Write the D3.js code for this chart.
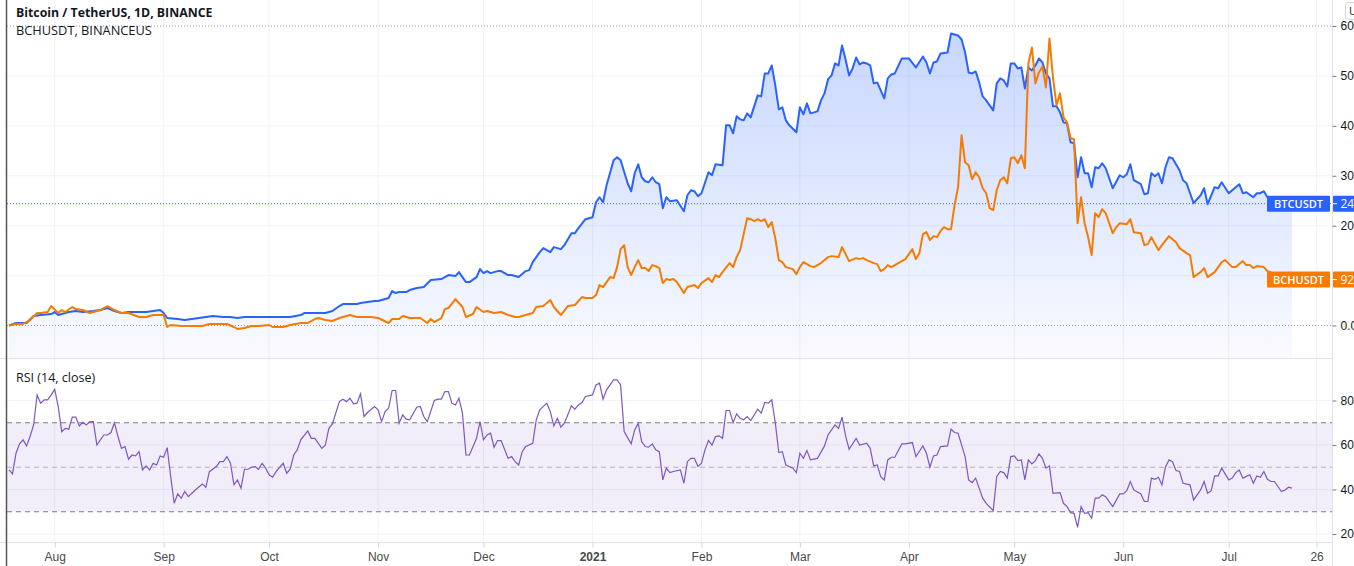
<!DOCTYPE html>
<html>
<head>
<meta charset="utf-8">
<script src="https://cdn.jsdelivr.net/npm/d3@7"></script>
<style>
  body { margin: 0; overflow: hidden; background: #fff; }
  svg { display: block; font-family: "Open Sans", sans-serif; }
</style>
</head>
<body>
<svg width="1354" height="566"></svg>
<script>
// Data: day offsets from the first bar and % change vs that bar

var startDate = new Date(2020, 6, 19);   // first daily bar (Jul 19 2020)
var lastDay = 365;                       // last daily bar (Jul 19 2021)

var btcDays = [0,2,5,7,9,12,13,14,15,17,19,21,24,26,28,30,32,34,37,39,41,43,44,45,48,50,52,54,56,58,61,63,65,67,69,71,74,76,78,80,83,84,88,90,92,94,95,99,100,102,104,105,107,108,109,110,111,113,114,116,118,120,123,124,125,127,128,129,130,131,133,134,135,136,137,139,140,142,143,145,147,148,149,151,152,154,155,157,158,160,161,162,164,166,167,168,169,170,172,173,174,176,177,178,179,180,181,182,183,184,185,186,187,188,190,192,193,194,195,196,197,199,200,201,203,204,205,206,207,208,209,210,211,213,214,215,216,217,218,219,220,221,222,224,225,226,227,228,230,231,232,233,234,235,236,237,238,239,240,241,242,243,244,245,246,247,249,250,251,252,254,256,258,260,261,262,263,264,265,267,268,270,271,272,273,274,275,276,277,278,280,281,282,283,284,285,286,287,288,289,290,291,292,293,294,295,296,297,298,299,300,301,302,303,304,305,306,307,308,309,310,311,312,314,316,317,318,319,320,322,323,324,325,326,327,328,329,330,331,333,334,335,337,339,340,341,343,344,345,347,349,350,351,352,354,355,356,357,358,360,362,365];
var btcPct  = [0,5,5,19,21,23,27,21,23,27,29,27,29,31,35,29,25,27,27,27,29,31,25,15,13,11,13,15,17,19,17,17,15,17,17,17,17,17,17,17,21,25,25,25,29,39,43,43,45,47,49,49,53,55,69,65,67,67,71,75,77,91,93,97,101,99,107,97,87,87,97,113,105,109,105,109,109,101,101,97,109,111,127,147,155,147,157,153,161,185,185,195,213,217,247,257,247,281,331,337,331,285,269,305,323,297,289,287,297,287,283,235,257,249,251,229,261,271,269,259,265,307,301,323,321,401,401,385,419,413,411,425,417,461,459,505,505,521,481,433,437,411,401,387,437,423,445,425,429,451,465,493,501,525,521,561,533,501,515,537,523,527,525,521,485,487,455,495,503,505,535,535,517,539,527,505,527,529,545,547,585,581,573,547,507,505,509,487,459,451,431,485,495,491,479,525,525,515,517,475,517,511,521,535,527,505,495,439,439,427,407,405,367,365,297,337,305,305,277,317,315,325,315,275,301,297,303,323,291,283,263,265,305,299,305,285,317,337,335,311,291,285,245,261,275,243,277,275,287,265,277,283,265,267,257,265,265,269,257,253,246,244];

var bchDays = [0,2,4,6,8,9,11,12,14,15,16,18,19,21,23,26,28,30,32,34,37,39,41,43,44,45,46,49,51,53,55,57,59,62,64,65,67,69,71,74,75,78,80,83,85,87,88,90,92,94,95,97,99,101,103,105,108,109,111,112,114,115,117,119,120,121,123,124,125,127,129,130,132,133,135,136,138,140,142,144,145,147,149,150,152,154,155,157,159,161,163,164,166,167,168,169,170,171,172,173,174,175,176,177,178,179,180,181,182,183,184,185,186,187,188,189,190,192,193,194,195,196,197,199,200,201,202,203,205,206,207,208,210,211,212,213,214,215,216,217,218,219,220,221,223,224,225,226,228,229,231,233,234,236,237,239,241,242,243,244,246,247,248,249,250,251,253,255,257,258,259,260,261,262,263,264,265,266,267,268,269,270,271,272,273,274,275,276,277,278,279,280,281,282,283,284,285,286,287,288,289,290,291,292,293,294,295,296,297,298,299,300,301,302,303,304,305,306,307,308,309,310,311,312,314,315,316,318,319,320,322,323,324,325,327,328,330,332,333,335,336,337,339,340,341,343,345,346,348,349,351,352,353,354,355,357,358,361,363,365];
var bchPct  = [0,3,3,11,25,25,27,39,25,31,27,37,33,31,25,31,39,31,25,25,17,17,21,21,21,-3,1,-1,-1,-1,-1,3,3,3,-3,-7,-5,-1,-1,1,-3,-3,1,5,5,13,15,11,9,15,17,21,17,17,17,15,5,13,13,19,15,15,15,5,13,7,15,33,35,53,37,17,23,37,27,29,25,27,21,17,17,21,25,37,39,51,37,21,39,41,57,55,55,61,81,77,87,97,95,117,153,161,117,101,117,131,115,115,109,121,119,115,85,93,91,93,87,65,77,79,81,75,85,95,87,101,97,107,125,117,137,151,215,213,209,213,209,213,197,207,175,131,127,117,113,103,117,127,119,117,125,137,139,137,157,129,135,133,135,131,125,123,109,113,121,117,125,133,153,133,145,183,187,171,179,177,189,197,193,193,241,277,381,327,321,293,307,297,275,265,235,231,271,291,297,285,335,337,325,341,315,525,557,485,507,519,477,575,497,441,465,417,407,375,373,205,257,205,177,141,225,217,233,225,185,197,205,203,213,187,185,161,163,177,151,161,179,167,155,145,141,97,107,115,97,107,127,131,117,117,129,121,121,115,119,117,109,101,95,92];

var rsiDays = [0,1,2,3,4,5,6,7,8,9,10,11,12,13,14,15,16,17,18,19,20,21,22,23,24,25,26,27,28,29,30,31,32,33,34,35,36,37,38,39,40,41,42,43,44,45,46,47,48,49,50,51,53,55,56,57,59,60,61,62,63,64,65,66,67,68,69,70,71,72,73,74,75,76,78,79,80,81,82,83,85,86,87,89,90,91,92,94,95,96,97,98,99,100,101,102,104,105,106,107,108,109,110,111,112,113,114,116,117,118,119,121,122,123,124,125,126,127,128,129,130,131,133,134,135,136,137,138,139,140,142,143,144,145,146,147,149,150,151,153,154,155,156,157,158,160,161,162,163,164,166,167,168,169,170,172,173,174,175,177,178,179,180,181,182,183,184,185,186,187,188,189,191,192,193,194,195,196,197,198,199,200,201,202,203,204,205,206,207,208,209,210,211,212,213,214,215,216,217,218,219,220,221,223,224,225,226,227,228,230,232,233,234,235,236,237,238,239,241,242,244,245,246,247,248,249,250,251,252,254,255,257,258,260,261,262,263,264,265,267,268,269,270,272,273,274,275,277,278,280,281,282,283,284,285,286,287,288,289,290,291,292,293,294,295,296,297,299,300,301,302,303,304,305,306,307,308,309,310,311,312,314,316,317,318,319,320,322,323,324,325,326,327,328,329,330,331,332,333,334,336,337,339,340,341,342,343,344,345,347,348,349,350,351,353,354,355,356,357,358,359,360,362,363,364,365];
var rsiValues = [48.8,47,56.3,60.5,62.3,59.6,63.8,69,82.5,78.8,80.3,80.3,82.5,85,77.3,66,67.5,67.1,72.5,72.5,68.6,70.2,69,70.5,70.5,60,62.3,64.5,64.5,65.6,70,63.8,58.5,59.3,53.6,55.5,55.1,57,48.8,50.6,48.8,51.8,51,55.1,54.5,58.8,45.8,33.8,38,36.1,39.1,36.8,39.8,42.5,41,48,50.3,52.5,52.5,54.8,51.8,42.1,44.3,40.6,49.1,49.1,50,50.3,49.1,51.8,49.6,46.6,45.5,48.1,51.8,47.3,49.1,55.5,57.8,62.3,66.3,63,63,58.5,60,67.5,69.5,79.5,80.6,79.5,81,78.5,78.8,83,72.8,74.6,77.3,75.8,70.5,75,76.5,84.5,84.5,69.8,73.5,71.6,71.3,77,77.3,72.8,70.5,80,80.6,80.6,84,84,78.8,78,81,74.3,55.5,55.5,63,70.5,62.3,64.5,65.3,59,62,62,54,54.8,52.5,51,57,59.3,60.8,71.3,75.8,78.8,75,68.6,72,68,69.8,77.6,76.1,78,79.1,81.8,82.5,87,87.8,80.6,84.8,89.3,89.3,87,66,60.5,66.8,69.8,61.5,59.3,59,60.5,57.8,57,44.3,49.6,47.6,48.1,48.8,42.8,52.5,54,54,50.3,51.8,57.8,62,60,63.8,64.1,63,75.5,75.5,70,74,72,71.3,72.8,71,73.5,76.1,74.3,79.1,78.8,80.3,70,56.6,57,51,49.6,47.6,56.3,54,57.5,53.3,54,59.6,64.5,66.8,69,67.5,72.5,64.1,58.1,63,60,60.8,58.5,50.6,51,45.8,44.3,53.3,54.5,54.5,60.5,60.5,61.1,54.8,59.6,56.3,50,55.1,55.5,59.3,59.6,67.1,65.6,65.3,54.8,44.3,43.1,45.1,36.1,33.8,30.5,45.8,48.1,47.6,45.1,54.8,55.1,53,53.3,44.3,53.3,51.5,53,56,54,49.6,50.6,38.3,38.6,33.8,32.3,29.6,29.3,23,32.3,29.3,29.6,27.1,36.1,36.1,37.6,36.8,32.3,38,38,39.5,43.6,39.8,38,34.6,34.6,45.1,44.6,45.5,42.1,50,53.3,52.5,48.5,48.1,42.8,42.1,35.3,39.8,43.6,38.3,39.5,46.1,46.1,49.6,44.3,45.1,47.6,48.8,45.1,46.6,42.8,46.1,45.5,48.1,44.6,43.6,43.6,39.1,39.8,41,40.6];

var priceTicks = [0, 100, 200, 300, 400, 500, 600];     // % grid on the right scale
var priceLabels = [0, 200, 300, 400, 500, 600];          // 100% label sits under the BCHUSDT box
var rsiTicks = [20, 40, 60, 80];
var rsiLevels = [70, 50, 30];                            // dashed RSI bands
var dateTicks = ['2020-08-01','2020-09-01','2020-10-01','2020-11-01','2020-12-01','2021-01-01',
                 '2021-02-01','2021-03-01','2021-04-01','2021-05-01','2021-06-01','2021-07-01','2021-07-26'];
var btcLast = '244.27%', bchLast = '92.31%';

// Layout

var svg = d3.select('svg');
var left = 7, right = 1332;          // plot area edges
var priceTop = 0, priceBottom = 358; // price pane
var rsiTop = 358, rsiBottom = 542;   // RSI pane
var blue = '#2962ff', orange = '#f57c00', purple = '#7e57c2';
var gridColor = '#f0f3fa', textColor = '#131722';

function dayDate(n) { return d3.timeDay.offset(startDate, n); }

var x = d3.scaleTime().domain([startDate, dayDate(lastDay)]).range([9, 1292]);
var yPrice = d3.scaleLinear().domain([0, 600]).range([325.5, 26]);
var yRsi = d3.scaleLinear().domain([20, 80]).range([534, 400.5]);

var btc = btcDays.map(function (d, i) { return { date: dayDate(d), v: btcPct[i] }; });
var bch = bchDays.map(function (d, i) { return { date: dayDate(d), v: bchPct[i] }; });
var rsi = rsiDays.map(function (d, i) { return { date: dayDate(d), v: rsiValues[i] }; });
var ticks = dateTicks.map(function (s) { return d3.timeParse('%Y-%m-%d')(s); });

// clip paths for panes
var defs = svg.append('defs');
defs.append('clipPath').attr('id', 'clipPrice').append('rect')
  .attr('x', left).attr('y', priceTop).attr('width', right - left).attr('height', priceBottom - priceTop);
defs.append('clipPath').attr('id', 'clipRsi').append('rect')
  .attr('x', left).attr('y', rsiTop).attr('width', right - left).attr('height', rsiBottom - rsiTop);

var grad = defs.append('linearGradient').attr('id', 'areaFill')
  .attr('gradientUnits', 'userSpaceOnUse').attr('x1', 0).attr('x2', 0)
  .attr('y1', yPrice(600)).attr('y2', priceBottom);
grad.append('stop').attr('offset', 0).attr('stop-color', blue).attr('stop-opacity', 0.26);
grad.append('stop').attr('offset', 1).attr('stop-color', blue).attr('stop-opacity', 0.03);

// Grid

svg.append('g').selectAll('line').data(ticks).join('line')
  .attr('x1', function (d) { return x(d); }).attr('x2', function (d) { return x(d); })
  .attr('y1', 0).attr('y2', rsiBottom)
  .attr('stroke', gridColor).attr('stroke-width', 1);

svg.append('g').selectAll('line').data(priceTicks.slice(1, -1)).join('line')
  .attr('x1', left).attr('x2', right)
  .attr('y1', function (d) { return yPrice(d); }).attr('y2', function (d) { return yPrice(d); })
  .attr('stroke', gridColor);

svg.append('g').selectAll('line').data(rsiTicks).join('line')
  .attr('x1', left).attr('x2', right)
  .attr('y1', function (d) { return yRsi(d); }).attr('y2', function (d) { return yRsi(d); })
  .attr('stroke', gridColor);

// Price pane

var area = d3.area()
  .x(function (d) { return x(d.date); })
  .y0(priceBottom)
  .y1(function (d) { return yPrice(d.v); });

var priceLine = d3.line()
  .x(function (d) { return x(d.date); })
  .y(function (d) { return yPrice(d.v); });

var pricePane = svg.append('g').attr('clip-path', 'url(#clipPrice)');

pricePane.append('path').datum(btc).attr('d', area).attr('fill', 'url(#areaFill)');

// dotted reference lines: top, zero and last BTC value
[600, 0].forEach(function (v) {
  pricePane.append('line')
    .attr('x1', left).attr('x2', right).attr('y1', yPrice(v)).attr('y2', yPrice(v))
    .attr('stroke', '#9598a1').attr('stroke-width', 1).attr('stroke-dasharray', '1,2');
});
pricePane.append('line')
  .attr('x1', left).attr('x2', right)
  .attr('y1', yPrice(btcPct[btcPct.length - 1])).attr('y2', yPrice(btcPct[btcPct.length - 1]))
  .attr('stroke', blue).attr('stroke-width', 1).attr('stroke-dasharray', '1,2');

pricePane.append('path').datum(btc).attr('d', priceLine)
  .attr('fill', 'none').attr('stroke', blue).attr('stroke-width', 2).attr('stroke-linejoin', 'round');
pricePane.append('path').datum(bch).attr('d', priceLine)
  .attr('fill', 'none').attr('stroke', orange).attr('stroke-width', 2).attr('stroke-linejoin', 'round');

// RSI pane

svg.append('rect')
  .attr('x', left).attr('width', right - left)
  .attr('y', yRsi(70)).attr('height', yRsi(30) - yRsi(70))
  .attr('fill', purple).attr('fill-opacity', 0.1);

svg.append('g').selectAll('line').data(rsiLevels).join('line')
  .attr('x1', left).attr('x2', right)
  .attr('y1', function (d) { return yRsi(d); }).attr('y2', function (d) { return yRsi(d); })
  .attr('stroke', '#787b86')
  .attr('stroke-opacity', function (d) { return d === 50 ? 0.5 : 1; })
  .attr('stroke-dasharray', '5,4');

var rsiLine = d3.line()
  .x(function (d) { return x(d.date); })
  .y(function (d) { return yRsi(d.v); });

svg.append('g').attr('clip-path', 'url(#clipRsi)')
  .append('path').datum(rsi).attr('d', rsiLine)
  .attr('fill', 'none').attr('stroke', purple).attr('stroke-width', 1.2);

// Pane borders

svg.append('line').attr('x1', 0).attr('x2', right).attr('y1', priceBottom + 0.5).attr('y2', priceBottom + 0.5)
  .attr('stroke', '#e0e3eb');
svg.append('line').attr('x1', 0).attr('x2', right).attr('y1', rsiBottom + 0.5).attr('y2', rsiBottom + 0.5)
  .attr('stroke', '#e0e3eb');
svg.append('line').attr('x1', right + 0.5).attr('x2', right + 0.5).attr('y1', 0).attr('y2', 566)
  .attr('stroke', '#e0e3eb');
svg.append('line').attr('x1', 6.5).attr('x2', 6.5).attr('y1', 0).attr('y2', 566)
  .attr('stroke', '#555').attr('stroke-width', 1.5);

// Axes

var monthFmt = d3.timeFormat('%b');
var xAxis = d3.axisBottom(x)
  .tickValues(ticks)
  .tickSize(5)
  .tickFormat(function (d) {
    if (d.getDate() !== 1) return d.getDate();
    if (d.getMonth() === 0) return d.getFullYear();
    return monthFmt(d);
  });

var gx = svg.append('g').attr('transform', 'translate(0,' + (rsiBottom + 0.5) + ')').call(xAxis);
gx.select('.domain').remove();
gx.selectAll('line').attr('stroke', '#d1d4dc');
gx.selectAll('text').attr('fill', '#4a4a4a').attr('font-size', 12).attr('y', 10)
  .attr('font-weight', function (d) { return d.getMonth() === 0 && d.getDate() === 1 ? 600 : 400; });

var gp = svg.append('g').attr('transform', 'translate(' + (right + 0.5) + ',0)')
  .call(d3.axisRight(yPrice).tickValues(priceLabels).tickSize(4)
    .tickFormat(function (d) { return d.toFixed(2) + '%'; }));
gp.select('.domain').remove();
gp.selectAll('line').attr('stroke', '#787b86');
gp.selectAll('text').attr('fill', textColor).attr('font-size', 12).attr('x', 8);

var gr = svg.append('g').attr('transform', 'translate(' + (right + 0.5) + ',0)')
  .call(d3.axisRight(yRsi).tickValues(rsiTicks).tickSize(4)
    .tickFormat(function (d) { return d.toFixed(2); }));
gr.select('.domain').remove();
gr.selectAll('line').attr('stroke', '#787b86');
gr.selectAll('text').attr('fill', textColor).attr('font-size', 12).attr('x', 8);

// Last value labels (series name box + price scale box)

function lastLabel(name, value, valueText, color) {
  var yy = yPrice(value);
  var g = svg.append('g');
  g.append('rect').attr('x', 1267).attr('y', yy - 8).attr('width', 63).attr('height', 16)
    .attr('rx', 1).attr('fill', color);
  g.append('text').attr('x', 1298.5).attr('y', yy + 4).attr('text-anchor', 'middle')
    .attr('fill', '#fff').attr('font-size', 11).attr('font-weight', 600).text(name);
  g.append('rect').attr('x', right + 1).attr('y', yy - 8).attr('width', 60).attr('height', 16)
    .attr('rx', 1).attr('fill', color);
  g.append('line').attr('x1', right + 1).attr('x2', right + 5).attr('y1', yy).attr('y2', yy)
    .attr('stroke', '#fff');
  g.append('text').attr('x', right + 8.5).attr('y', yy + 4.5)
    .attr('fill', '#fff').attr('font-size', 12).text(valueText);
}
lastLabel('BTCUSDT', btcPct[btcPct.length - 1], btcLast, blue);
lastLabel('BCHUSDT', bchPct[bchPct.length - 1], bchLast, orange);

// Titles

svg.append('text').attr('x', 16).attr('y', 17).attr('font-size', 12.3).attr('font-weight', 700)
  .attr('fill', textColor).text('Bitcoin / TetherUS, 1D, BINANCE');
svg.append('text').attr('x', 16).attr('y', 35).attr('font-size', 12.8)
  .attr('fill', textColor).text('BCHUSDT, BINANCEUS');
svg.append('text').attr('x', 16).attr('y', 382).attr('font-size', 12.5)
  .attr('fill', textColor).text('RSI (14, close)');

// currency button at top right
svg.append('rect').attr('x', 1345.5).attr('y', 2.5).attr('width', 40).attr('height', 17).attr('rx', 3)
  .attr('fill', '#fff').attr('stroke', '#d1d4dc');
svg.append('text').attr('x', 1349).attr('y', 15).attr('font-size', 11).attr('fill', textColor).text('USDT');
</script>
</body>
</html>
